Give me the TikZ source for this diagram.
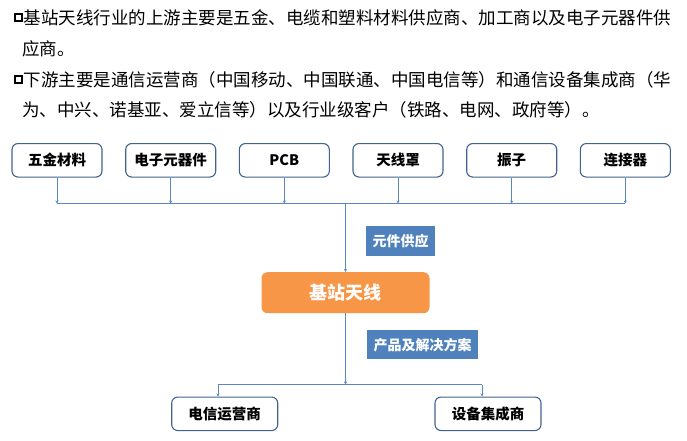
\documentclass[tikz,border=0pt]{standalone}
\usepackage{fontspec}
\setmainfont{Noto Sans CJK SC}
\usetikzlibrary{arrows.meta}
\definecolor{boxline}{HTML}{41638F}
\definecolor{linkblue}{HTML}{5A87C2}
\definecolor{antorange}{HTML}{F79646}
\definecolor{tagblue}{HTML}{4F81BD}
\tikzset{
  bodyline/.style={anchor=west, inner sep=0pt, font=\fontsize{17.5}{17.5}\selectfont},
  bulletbox/.style={draw=black, line width=2pt, minimum size=7pt, inner sep=0pt},
  partbox/.style={draw=boxline, line width=1.1pt, rounded corners=6pt, minimum width=90pt, minimum height=33.5pt, font=\fontsize{14.5}{14.5}\selectfont\bfseries},
  userbox/.style={partbox, minimum width=106pt},
  tagbox/.style={fill=tagblue, text=white, inner sep=0pt, font=\fontsize{14}{14}\selectfont\bfseries},
  link/.style={draw=linkblue, line width=0.8pt, -{Stealth[length=3pt,width=3pt]}},
  bus/.style={draw=linkblue, line width=0.8pt}
}

\begin{document}
\begin{tikzpicture}[x=1pt,y=-1pt]
		%%%%% START %%%%%
		\useasboundingbox (0,0) rectangle (687,441);
		
		\node[bulletbox] (bulA) at (18.3,17.8) {};
		\node[bodyline] (lineA) at (23.5,18) {基站天线行业的上游主要是五金、电缆和塑料材料供应商、加工商以及电子元器件供};
		\node[bodyline] (lineB) at (22,49) {应商。};
		\node[bulletbox] (bulB) at (18.3,80) {};
		\node[bodyline] (lineC) at (23.5,80) {下游主要是通信运营商（中国移动、中国联通、中国电信等）和通信设备集成商（华};
		\node[bodyline] (lineD) at (22,110) {为、中兴、诺基亚、爱立信等）以及行业级客户（铁路、电网、政府等）。};
		
		\node[partbox] (wujin) at (57,160.3) {五金材料};
		\node[partbox] (dianzi) at (170.7,160.3) {电子元器件};
		\node[partbox] (pcb) at (284.3,160.3) {PCB};
		\node[partbox] (radome) at (398,160.3) {天线罩};
		\node[partbox] (dipole) at (511.7,160.3) {振子};
		\node[partbox] (connector) at (625.3,160.3) {连接器};
		
		\coordinate (busA) at (57,203.5);
		\draw[bus] (busA) -- (connector.south |- busA);
		\draw[link] (wujin.south) -- (wujin.south |- busA);
		\draw[link] (dianzi.south) -- (dianzi.south |- busA);
		\draw[link] (pcb.south) -- (pcb.south |- busA);
		\draw[link] (radome.south) -- (radome.south |- busA);
		\draw[link] (dipole.south) -- (dipole.south |- busA);
		\draw[link] (connector.south) -- (connector.south |- busA);
		
		\node[fill=antorange, rounded corners=6pt, minimum width=168pt, minimum height=41pt, text=white, font=\fontsize{18}{18}\selectfont\bfseries] (antenna) at (345.5,292.7) {基站天线};
		\draw[link] (antenna.north |- busA) -- (antenna.north);
		\node[tagbox, minimum width=69pt, minimum height=29.7pt] (supply) at (400.5,240.8) {元件供应};
		
		\node[userbox] (telecom) at (224.7,413.8) {电信运营商};
		\node[userbox] (integrator) at (488,413.8) {设备集成商};
		
		\coordinate (splitL) at (218,384.5);
		\coordinate (splitR) at (482,384.5);
		\draw[link] (antenna.south) -- (antenna.south |- splitL);
		\draw[bus] (splitL) -- (splitR);
		\draw[link] (splitL) -- (splitL |- telecom.north);
		\draw[link] (splitR) -- (splitR |- integrator.north);
		\node[tagbox, minimum width=111pt, minimum height=29.3pt] (solution) at (422.7,344.7) {产品及解决方案};
		
		%%%%% END %%%%%
\end{tikzpicture}
\end{document}
